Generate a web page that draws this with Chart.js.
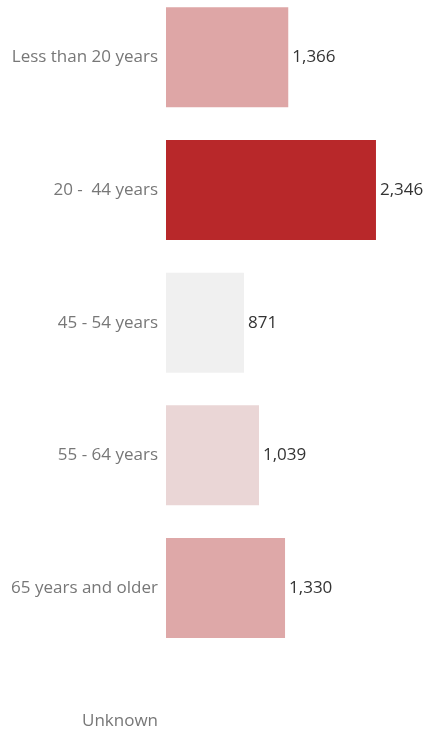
<!DOCTYPE html>
<html>
<head>
<meta charset="utf-8">
<script src="https://cdn.jsdelivr.net/npm/chart.js@4/dist/chart.umd.min.js"></script>
<style>
    html, body { margin: 0; padding: 0; background: #fff; overflow: hidden; }
    body { width: 426px; height: 732px; position: relative; }
    #chart { position: absolute; left: 0; top: -9px; }
</style>
</head>
<body>
<canvas id="chart" width="426" height="796" style="width:426px;height:796px"></canvas>
<script>
(function () {
    'use strict';

    // ── 資料 ──────────────────────────────────────────────────────────────
    var AGE_GROUPS = ['Less than 20 years', '20 -  44 years', '45 - 54 years',
                      '55 - 64 years', '65 years and older', 'Unknown'];
    var CASES      = [1366, 2346, 871, 1039, 1330, null];
    var BAR_COLORS = ['#dea6a6', '#b8282a', '#f0f0f0', '#ead6d6', '#dea8a8', '#dddddd'];
    var X_MAX      = 2905;

    var FONT = '"Open Sans", "Noto Sans", sans-serif';

    function fmt(v) { return v.toLocaleString('en-US'); }

    // 在長條右側寫數值
    var valueLabels = {
        id: 'valueLabels',
        afterDatasetsDraw: function (chart) {
            var ctx = chart.ctx;
            var meta = chart.getDatasetMeta(0);
            ctx.save();
            ctx.font = '17px ' + FONT;
            ctx.fillStyle = '#333333';
            ctx.textAlign = 'left';
            ctx.textBaseline = 'middle';
            meta.data.forEach(function (bar, i) {
                var v = CASES[i];
                if (v == null) return;
                ctx.fillText(fmt(v), bar.x + 4, bar.y);
            });
            ctx.restore();
        }
    };

    new Chart(document.getElementById('chart').getContext('2d'), {
        type: 'bar',
        data: {
            labels: AGE_GROUPS,
            datasets: [{
                data: CASES,
                backgroundColor: BAR_COLORS,
                borderWidth: 0,
                categoryPercentage: 1,
                barPercentage: 0.754
            }]
        },
        options: {
            indexAxis: 'y',
            responsive: false,
            animation: false,
            layout: { padding: 0 },
            plugins: {
                legend: { display: false },
                tooltip: { enabled: false }
            },
            scales: {
                x: {
                    display: false,
                    min: 0,
                    max: X_MAX
                },
                y: {
                    border: { display: false },
                    grid: { display: false, drawTicks: false },
                    ticks: {
                        padding: 8,
                        color: '#777777',
                        font: { family: FONT, size: 17 }
                    },
                    afterFit: function (scale) {
                        scale.width = 166;
                        scale.paddingTop = 0;
                        scale.paddingBottom = 0;
                    }
                }
            }
        },
        plugins: [valueLabels]
    });
})();
</script>
</body>
</html>
